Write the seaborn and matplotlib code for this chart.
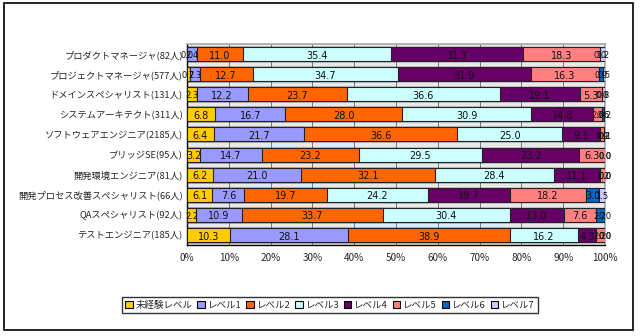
import matplotlib
matplotlib.use("Agg")
import matplotlib.pyplot as plt
import seaborn as sns
import pandas as pd
import numpy as np
from matplotlib.patches import Patch, Rectangle

sns.set_theme(style="white")
plt.rcParams['font.family'] = ['Noto Sans CJK JP', 'DejaVu Sans']

categories = [
    "プロダクトマネージャ(82人)",
    "プロジェクトマネージャ(577人)",
    "ドメインスペシャリスト(131人)",
    "システムアーキテクト(311人)",
    "ソフトウェアエンジニア(2185人)",
    "ブリッジSE(95人)",
    "開発環境エンジニア(81人)",
    "開発プロセス改善スペシャリスト(66人)",
    "QAスペシャリスト(92人)",
    "テストエンジニア(185人)",
]
levels = ["未経験レベル", "レベル1", "レベル2", "レベル3", "レベル4", "レベル5", "レベル6", "レベル7"]

mikeiken = [0.0, 0.7, 2.3, 6.8, 6.4, 3.2, 6.2, 6.1, 2.2, 10.3]
level1 = [2.4, 2.3, 12.2, 16.7, 21.7, 14.7, 21.0, 7.6, 10.9, 28.1]
level2 = [11.0, 12.7, 23.7, 28.0, 36.6, 23.2, 32.1, 19.7, 33.7, 38.9]
level3 = [35.4, 34.7, 36.6, 30.9, 25.0, 29.5, 28.4, 24.2, 30.4, 16.2]
level4 = [31.7, 31.9, 19.1, 14.8, 9.1, 23.2, 11.1, 19.7, 13.0, 4.3]
level5 = [18.3, 16.3, 5.3, 2.0, 0.9, 6.3, 1.2, 18.2, 7.6, 2.2]
level6 = [0.0, 0.9, 0.0, 0.6, 0.2, 0.0, 0.0, 3.0, 2.2, 0.0]
level7 = [1.2, 0.5, 0.8, 0.2, 0.1, 0.0, 0.0, 1.5, 0.0, 0.0]

series = [mikeiken, level1, level2, level3, level4, level5, level6, level7]
colors = ["#FFCC00", "#9999FF", "#FF6600", "#CCFFFF", "#660066", "#FF8080", "#0066CC", "#CCCCFF"]

df = pd.DataFrame({lv: s for lv, s in zip(levels, series)}, index=categories)
cum = df.cumsum(axis=1)

fig = plt.figure(figsize=(6.4, 3.36), dpi=100)
# outer frame
fig.patches.append(Rectangle((4/640, 1 - 330/336), 629/640, 327/336, transform=fig.transFigure,
                             fill=False, edgecolor="black", linewidth=1.2))

ax = fig.add_axes([187/640, 1 - 245/336, 418/640, 201/336])
ax.set_facecolor("#E9E9E9")

for i in range(len(levels) - 1, -1, -1):
    d = pd.DataFrame({"cat": categories, "val": cum[levels[i]].values})
    sns.barplot(data=d, y="cat", x="val", orient="h", color=colors[i], ax=ax,
                edgecolor="#222222", linewidth=0.8, width=0.7, saturation=1, zorder=3)

# value labels
for r, cat in enumerate(categories):
    left = 0.0
    for i, lv in enumerate(levels):
        v = df.loc[cat, lv]
        fs = 7.0 if v >= 3 else 6.0
        ax.text(left + v / 2, r + 0.08, f"{v:.1f}", ha="center", va="center",
                fontsize=fs, color="#111111", zorder=5, family=['DejaVu Sans'])
        left += v

ax.set_xlim(0, 100)
ax.set_ylim(len(categories) - 0.5, -0.5)
ax.set_xticks(np.arange(0, 101, 10))
ax.set_xticklabels([f"{t}%" for t in range(0, 101, 10)], fontsize=7.2)
ax.tick_params(axis="x", length=3, direction="out", color="black", pad=3)
ax.tick_params(axis="y", length=0, pad=3)
ax.set_yticks(range(len(categories)))
ax.set_yticklabels(categories, fontsize=6.7)
ax.set_xlabel("")
ax.set_ylabel("")
ax.grid(axis="x", color="#777777", linewidth=0.7, zorder=0)
ax.set_axisbelow(True)
for s in ["top", "right"]:
    ax.spines[s].set_color("#AAAAAA")
for s in ["left", "bottom"]:
    ax.spines[s].set_color("black")
    ax.spines[s].set_linewidth(1.0)

handles = [Patch(facecolor=c, edgecolor="black", linewidth=0.8) for c in colors]
leg = fig.legend(handles, levels, loc="center", bbox_to_anchor=(330/640, 1 - 305/336), ncol=8,
                 fontsize=6.8, frameon=True, fancybox=False, handlelength=0.8, handleheight=0.8,
                 handletextpad=0.3, columnspacing=0.5, borderpad=0.35)
leg.get_frame().set_edgecolor("black")
leg.get_frame().set_linewidth(1.0)

fig.savefig("out.png", dpi=100)
